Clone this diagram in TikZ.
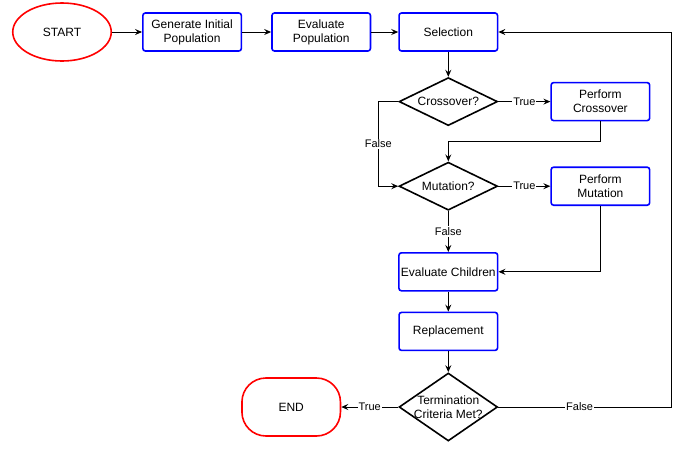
\documentclass[tikz,border=0pt]{standalone}
\usepackage{fontspec}
\setmainfont{Liberation Sans}
\usepackage{xcolor}
\usepackage{tikz}
\usetikzlibrary{arrows.meta,positioning,shapes.geometric}
\definecolor{GaBlue}{HTML}{0000FF}
\definecolor{GaRed}{HTML}{FF0000}
\newcommand\gabox{\fontsize{12}{14}\selectfont}
\newcommand\gaedge{\fontsize{11}{13}\selectfont}

\begin{document}
\begin{tikzpicture}[
  x=1pt,y=-1pt,
  process/.style={draw=GaBlue,fill=white,line width=1.6pt,rounded corners=2.5pt,
    minimum width=98.5pt,minimum height=38pt,align=center,inner sep=2pt,font=\gabox},
  decision/.style={diamond,draw=black,fill=white,line width=1.6pt,
    minimum width=98.5pt,minimum height=48pt,inner sep=0pt},
  dlabel/.style={font=\gabox,align=center},
  terminal/.style={draw=GaRed,fill=white,line width=1.6pt,
    minimum width=98.5pt,minimum height=58pt,font=\gabox},
  flow/.style={-{Stealth[length=7pt,width=6pt,inset=2.5pt]},line width=1pt},
  edgelabel/.style={fill=white,font=\gaedge,inner sep=1pt}
]
\useasboundingbox (0,0) rectangle (681,448);
% top row
\node[terminal,ellipse] (start) at (62,32) {START};
\node[process,right=30pt of start] (geninit) {Generate Initial\\Population};
\node[process,right=29pt of geninit] (evalpop) {Evaluate\\Population};
\node[process,right=27pt of evalpop] (select) {Selection};
% genetic operators
\node[decision,below=25pt of select,label={[dlabel]center:Crossover?}] (cross) {};
\node[process,right=52pt of cross] (pcross) {Perform\\Crossover};
\node[decision,below=35pt of cross,label={[dlabel]center:Mutation?}] (mut) {};
\node[process,right=52pt of mut] (pmut) {Perform\\Mutation};
\node[process,below=41pt of mut] (evalc) {Evaluate Children};
\node[process,below=20pt of evalc] (replace) {Replacement};
\node[decision,below=21pt of replace,minimum height=68pt,
  label={[dlabel]center:Termination\\Criteria Met?}] (term) {};
\node[terminal,rounded corners=24pt,left=57pt of term] (finish) {END};

\draw[flow] (start) -- (geninit);
\draw[flow] (geninit) -- (evalpop);
\draw[flow] (evalpop) -- (select);
\draw[flow] (select) -- (cross);
\draw[flow] (cross) -- node[edgelabel]{True} (pcross);
\draw[flow] (cross.west) -- ++(-20,0) |- node[edgelabel,pos=0.25]{False} (mut.west);
\draw[flow] (pcross.south) -- ++(0,20) -| (mut.north);
\draw[flow] (mut) -- node[edgelabel]{True} (pmut);
\draw[flow] (mut) -- node[edgelabel]{False} (evalc);
\draw[flow] (pmut.south) |- (evalc.east);
\draw[flow] (evalc) -- (replace);
\draw[flow] (replace) -- (term);
\draw[flow] (term) -- node[edgelabel]{True} (finish);
\draw[flow] (term.east) -- node[edgelabel,pos=0.47]{False} ++(173,0) |- (select.east);
\end{tikzpicture}
\end{document}
